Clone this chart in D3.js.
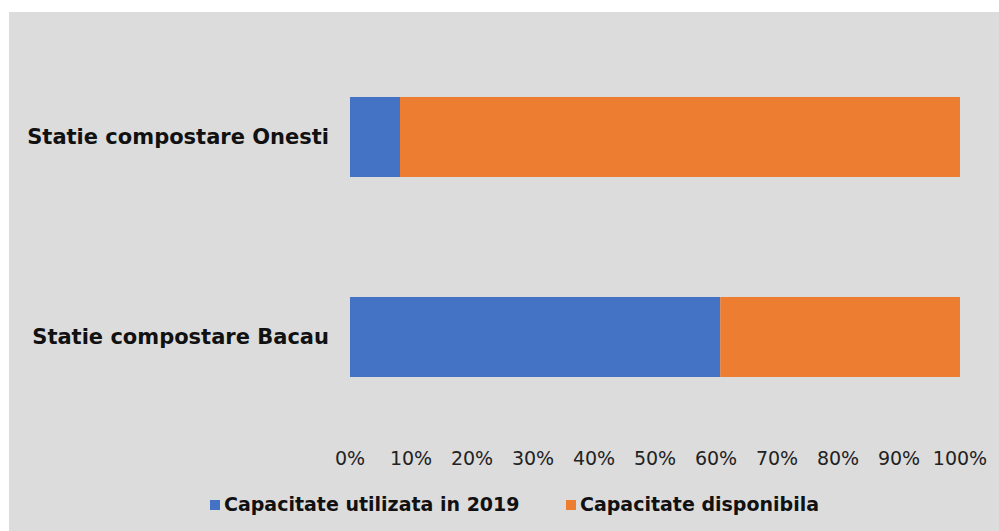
<!DOCTYPE html>
<html>
<head>
  <meta charset="utf-8">
  <title>Capacitate statii compostare</title>
  <script src="https://d3js.org/d3.v7.min.js"></script>
  <style>
    body { margin: 0; background: #fff; }
    text { font-family: "DejaVu Sans", Verdana, sans-serif; fill: #111; }
    .cat { font-weight: bold; font-size: 21px; }
    .tick-label { font-size: 19px; fill: #222; }
    .legend { font-weight: bold; font-size: 19px; }
  </style>
</head>
<body>
  <svg width="999" height="531"></svg>
  <script>
    // categories, top to bottom
    const categories = ["Statie compostare Onesti", "Statie compostare Bacau"];
    // share of capacity used in 2019 (%)
    const usedValues = [8.2, 60.7];
    const seriesNames = ["Capacitate utilizata in 2019", "Capacitate disponibila"];
    const seriesColors = ["#4472C4", "#ED7D31"];
    const tickValues = [0, 10, 20, 30, 40, 50, 60, 70, 80, 90, 100];

    const svg = d3.select("svg");

    // grey chart panel
    svg.append("rect")
      .attr("x", 9).attr("y", 12)
      .attr("width", 990).attr("height", 519)
      .attr("fill", "#dcdcdc");

    const x = d3.scaleLinear().domain([0, 100]).range([350, 960]);
    const y = d3.scaleBand().domain(categories).range([37, 437]).paddingInner(0.6).paddingOuter(0.3);

    // stacked segments: used + available
    const rows = categories.map((c, i) => ({ cat: c, used: usedValues[i], avail: 100 - usedValues[i] }));
    const stack = d3.stack().keys(["used", "avail"])(rows);

    svg.append("g").selectAll("g")
      .data(stack)
      .enter().append("g")
      .attr("fill", (d, i) => seriesColors[i])
      .selectAll("rect")
      .data(d => d)
      .enter().append("rect")
      .attr("x", d => x(d[0]))
      .attr("width", d => x(d[1]) - x(d[0]))
      .attr("y", d => y(d.data.cat))
      .attr("height", y.bandwidth());

    // category labels
    svg.append("g").selectAll("text")
      .data(categories)
      .enter().append("text")
      .attr("class", "cat")
      .attr("x", 329)
      .attr("y", d => y(d) + y.bandwidth() / 2)
      .attr("dy", "0.35em")
      .attr("text-anchor", "end")
      .text(d => d);

    // x axis tick labels (no axis line)
    svg.append("g").selectAll("text")
      .data(tickValues)
      .enter().append("text")
      .attr("class", "tick-label")
      .attr("x", d => x(d))
      .attr("y", 465)
      .attr("text-anchor", "middle")
      .text(d => d + "%");

    // legend
    const legendX = [210, 566];
    const lg = svg.append("g").selectAll("g")
      .data(seriesNames)
      .enter().append("g")
      .attr("transform", (d, i) => `translate(${legendX[i]},511)`);
    lg.append("rect")
      .attr("x", 0).attr("y", -11)
      .attr("width", 10).attr("height", 10)
      .attr("fill", (d, i) => seriesColors[i]);
    lg.append("text")
      .attr("class", "legend")
      .attr("x", 14)
      .attr("y", 0)
      .text(d => d);
  </script>
</body>
</html>
